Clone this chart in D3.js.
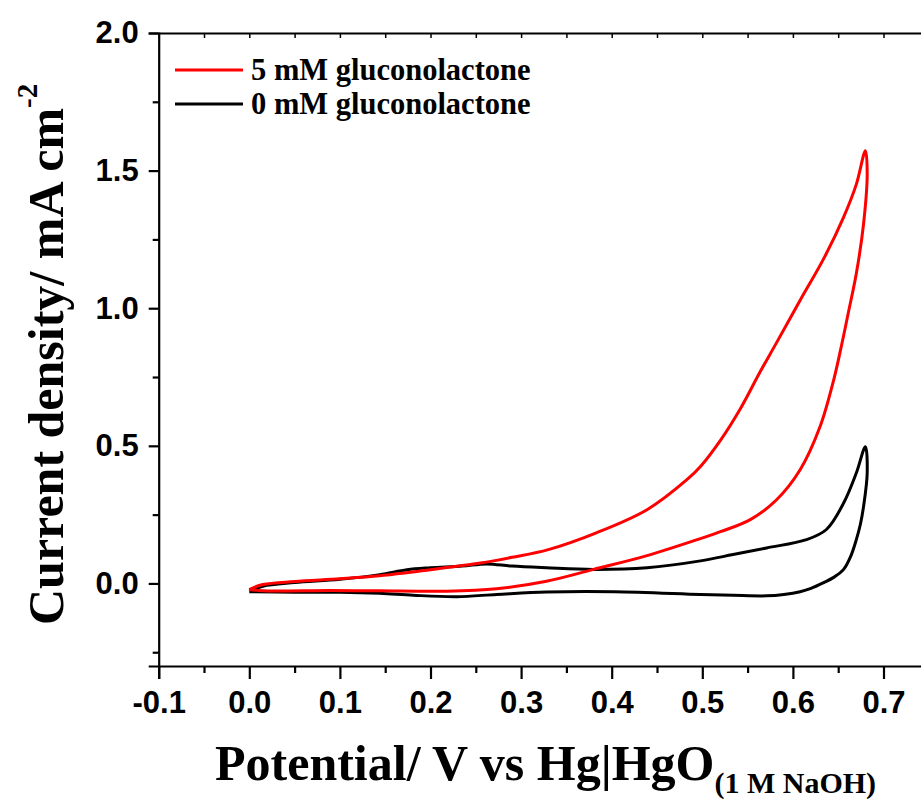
<!DOCTYPE html>
<html>
<head>
<meta charset="utf-8">
<script src="https://cdn.jsdelivr.net/npm/d3@7"></script>
<style>
  body { margin: 0; background: #fff; }
  #cv-plot { width: 921px; height: 799px; }
</style>
</head>
<body>
<div id="cv-plot"></div>
<script>
// cyclic voltammetry plot, two scans

const width = 921;
const height = 799;

// 5 mM gluconolactone (forward scan then back)
const redV = [0.000, 0.015, 0.050, 0.100, 0.144, 0.200, 0.255, 0.290, 0.330, 0.383, 0.439, 0.483, 0.498, 0.520, 0.542, 0.564, 0.582, 0.608, 0.634, 0.656, 0.670, 0.680,
              0.682, 0.678, 0.670, 0.661, 0.654, 0.645, 0.630, 0.608, 0.582, 0.553, 0.520, 0.498, 0.439, 0.380, 0.328, 0.273, 0.218, 0.144, 0.089, 0.015, 0.000];
const redI = [-0.022, -0.004, 0.007, 0.017, 0.028, 0.050, 0.074, 0.095, 0.123, 0.184, 0.268, 0.377, 0.425, 0.520, 0.635, 0.770, 0.875, 1.029, 1.180, 1.331, 1.450, 1.572,
              1.488, 1.307, 1.126, 0.981, 0.870, 0.739, 0.570, 0.413, 0.304, 0.232, 0.188, 0.163, 0.101, 0.051, 0.008, -0.019, -0.028, -0.027, -0.026, -0.027, -0.022];

// 0 mM gluconolactone
const blackV = [0.000, 0.015, 0.050, 0.100, 0.144, 0.174, 0.200, 0.235, 0.262, 0.290, 0.328, 0.380, 0.439, 0.498, 0.534, 0.571, 0.615, 0.637, 0.656, 0.670, 0.680,
                0.682, 0.678, 0.6745, 0.670, 0.664, 0.656, 0.645, 0.634, 0.620, 0.608, 0.590, 0.571, 0.534, 0.498, 0.403, 0.328, 0.273, 0.229, 0.181, 0.144, 0.100, 0.050, 0.000];
const blackI = [-0.028, -0.010, 0.003, 0.015, 0.032, 0.050, 0.057, 0.063, 0.071, 0.063, 0.057, 0.051, 0.057, 0.082, 0.105, 0.129, 0.159, 0.196, 0.292, 0.401, 0.497,
                0.401, 0.280, 0.215, 0.159, 0.100, 0.051, 0.022, 0.003, -0.018, -0.030, -0.040, -0.045, -0.043, -0.040, -0.030, -0.031, -0.040, -0.048, -0.043, -0.036, -0.032, -0.032, -0.030];

const xTicks = [-0.1, 0.0, 0.1, 0.2, 0.3, 0.4, 0.5, 0.6, 0.7];
const yTicks = [0.0, 0.5, 1.0, 1.5, 2.0];
const legendLabels = ["5 mM gluconolactone", "0 mM gluconolactone"];
const seriesColors = ["#ff0000", "#000000"];

const svg = d3.select("#cv-plot")
  .append("svg")
  .attr("width", width)
  .attr("height", height)
  .attr("viewBox", [0, 0, width, height]);

// scales; right side of the frame runs off the picture
let xScale = d3.scaleLinear()
  .domain([-0.1, 0.8])
  .range([158.7, 974.1]);

let yScale = d3.scaleLinear()
  .domain([-0.3, 2.0])
  .range([666, 33]);

const tickFont = "'Liberation Sans', Arial, sans-serif";
const serif = "'Liberation Serif', 'Times New Roman', serif";
const fmt = d => d.toFixed(1);

// bottom axis
const xAxis = svg.append("g")
  .attr("transform", `translate(0,${yScale(-0.3)})`)
  .call(d3.axisBottom(xScale).tickValues(xTicks).tickSize(13).tickPadding(12).tickFormat(fmt));
xAxis.select(".domain").attr("stroke-width", 2.2);
xAxis.selectAll(".tick line").attr("stroke-width", 2.2);
xAxis.selectAll("text").attr("font-size", "31px").attr("font-weight", "bold").attr("font-family", tickFont);

svg.append("g")
  .attr("transform", `translate(0,${yScale(-0.3)})`)
  .call(d3.axisBottom(xScale).tickValues(d3.range(-0.05, 0.8, 0.1)).tickSize(7).tickFormat(""))
  .call(g => g.select(".domain").remove())
  .selectAll("line").attr("stroke-width", 2.2);

// left axis
const yAxis = svg.append("g")
  .attr("transform", `translate(${xScale(-0.1)},0)`)
  .call(d3.axisLeft(yScale).tickValues(yTicks).tickSize(10).tickPadding(10).tickFormat(fmt));
yAxis.select(".domain").attr("stroke-width", 2.2);
yAxis.selectAll(".tick line").attr("stroke-width", 2.2);
yAxis.selectAll("text").attr("font-size", "31px").attr("font-weight", "bold").attr("font-family", tickFont);

svg.append("g")
  .attr("transform", `translate(${xScale(-0.1)},0)`)
  .call(d3.axisLeft(yScale).tickValues([-0.25, 0.25, 0.75, 1.25, 1.75]).tickSize(6).tickFormat(""))
  .call(g => g.select(".domain").remove())
  .selectAll("line").attr("stroke-width", 2.2);

// top frame with small inward ticks
const topAxis = svg.append("g")
  .attr("transform", `translate(0,${yScale(2.0)})`)
  .call(d3.axisTop(xScale).tickValues(d3.range(-0.1, 0.8, 0.05)).tickSize(-5).tickSizeOuter(0).tickFormat(""));
topAxis.select(".domain").attr("stroke-width", 2.2);
topAxis.selectAll("line").attr("stroke-width", 1.5);

// curves
const line = d3.line()
  .x(d => xScale(d[0]))
  .y(d => yScale(d[1]))
  .curve(d3.curveCatmullRom.alpha(0.5));

const series = [d3.zip(redV, redI), d3.zip(blackV, blackI)];

// black first so the red scan sits on top
svg.selectAll(".cv")
  .data([1, 0])
  .enter()
  .append("path")
    .attr("class", "cv")
    .attr("d", k => line(series[k]))
    .attr("fill", "none")
    .attr("stroke", k => seriesColors[k])
    .attr("stroke-width", 3)
    .attr("stroke-linejoin", "round");

// legend
const legend = svg.append("g");
legendLabels.forEach((lab, i) => {
  const ly = 70 + i * 34;
  legend.append("line")
    .attr("x1", 175).attr("x2", 243)
    .attr("y1", ly).attr("y2", ly)
    .attr("stroke", seriesColors[i])
    .attr("stroke-width", 3);
  legend.append("text")
    .attr("x", 251).attr("y", ly + 10)
    .attr("font-family", serif)
    .attr("font-weight", "bold")
    .attr("font-size", "30.5px")
    .text(lab);
});

// axis titles
const xTitle = svg.append("text")
  .attr("x", 215).attr("y", 780)
  .attr("font-family", serif)
  .attr("font-weight", "bold")
  .attr("font-size", "50px");
xTitle.append("tspan").text("Potential/ V vs Hg|HgO");
xTitle.append("tspan").attr("font-size", "30px").attr("dy", 13).text("(1 M NaOH)");

const yTitle = svg.append("text")
  .attr("transform", "translate(63,625) rotate(-90)")
  .attr("font-family", serif)
  .attr("font-weight", "bold")
  .attr("font-size", "50px");
yTitle.append("tspan").text("Current density/ mA cm");
yTitle.append("tspan").attr("font-size", "29px").attr("dy", -26).text("-2");
</script>
</body>
</html>
